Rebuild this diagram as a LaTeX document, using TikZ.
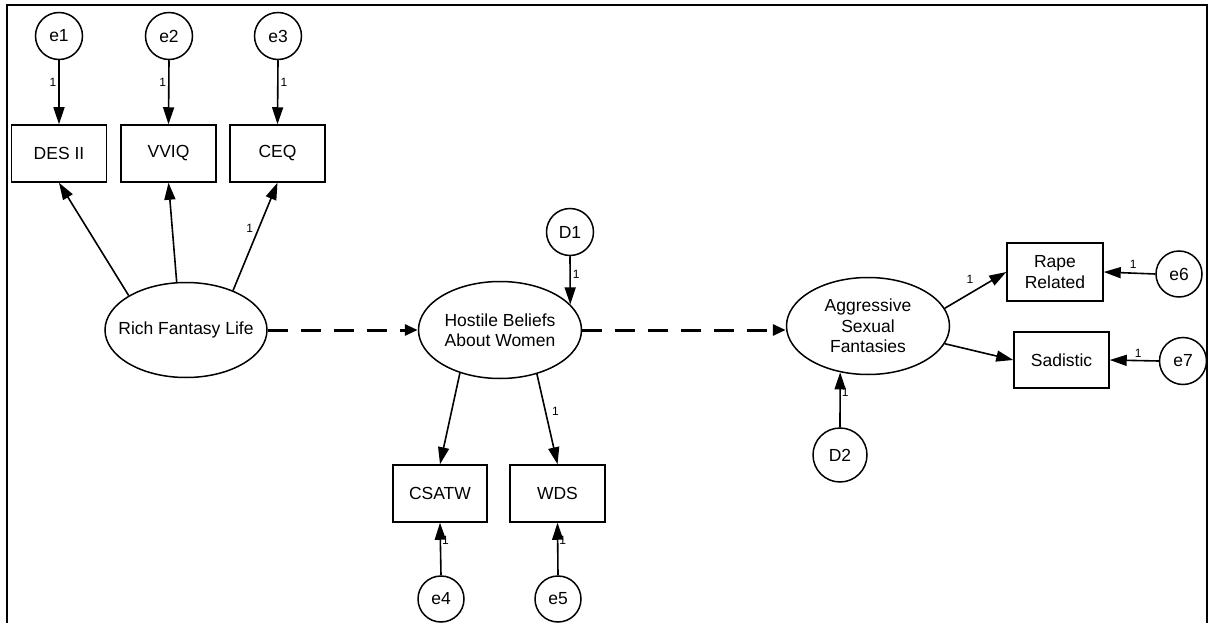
\documentclass[tikz,border=0pt]{standalone}
\usepackage{fontspec}
\setmainfont{Liberation Sans}
\usetikzlibrary{shapes.geometric,arrows.meta,calc}
\tikzset{
  txt/.style={font=\fontsize{17.5}{20.5}\selectfont, align=center, text=black},
  obs/.style={txt, draw, line width=1.5pt, rectangle, inner sep=0pt, minimum width=95pt, minimum height=57pt},
  lat/.style={txt, draw, line width=1.5pt, ellipse, inner sep=-15pt, minimum width=163pt, minimum height=97pt},
  err/.style={txt, draw, line width=1.5pt, circle, inner sep=0pt, minimum size=47pt},
  arr/.style={line width=1.6pt, -{Triangle[length=17pt,width=11pt]}},
  darr/.style={line width=3pt, dash pattern=on 20pt off 13pt, -{Triangle[length=13pt,width=11pt]}},
  one/.style={font=\fontsize{12}{13}\selectfont, inner sep=1pt, text=black},
}
\begin{document}
\begin{tikzpicture}[x=1pt,y=-1pt]
\useasboundingbox (0,0) rectangle (1208,623);
\draw[line width=1.6pt] (7,630) -- (7,5) -- (1207,5) -- (1207,630);

% indicators of Rich Fantasy Life
\node[err] (e1) at (59,36) {e1};
\node[err] (e2) at (169,36) {e2};
\node[err] (e3) at (278,36) {e3};
\node[obs] (des) at (59,153.5) {DES II};
\node[obs] (vviq) at (168.5,153.5) {VVIQ};
\node[obs] (ceq) at (277.5,153.5) {CEQ};
\node[lat, minimum width=162pt, minimum height=95pt] (rfl) at (186,330) {Rich Fantasy Life};

% Hostile beliefs
\node[lat] (hbw) at (500,330) {Hostile Beliefs\\About Women};
\node[err] (d1) at (570,232) {D1};
\node[obs, minimum width=94pt] (csatw) at (440,493.5) {CSATW};
\node[obs] (wds) at (557.5,493.5) {WDS};
\node[err, minimum size=46pt] (e4) at (441,599) {e4};
\node[err, minimum size=46pt] (e5) at (558,599) {e5};

% Aggressive sexual fantasies
\node[lat] (asf) at (868,326) {Aggressive\\Sexual\\Fantasies};
\node[err, minimum size=54pt] (d2) at (840,455) {D2};
\node[obs, minimum width=96pt, minimum height=58pt] (rape) at (1055,272) {Rape\\Related};
\node[obs, minimum height=56pt] (sad) at (1061.5,360) {Sadistic};
\node[err, minimum size=46pt] (e6) at (1179,274) {e6};
\node[err] (e7) at (1183,361) {e7};

% error arrows
\draw[arr] (e1.south) -- node[one, pos=0.35, left=1pt] {1} (des.north);
\draw[arr] (e2.south) -- node[one, pos=0.35, left=1pt] {1} (vviq.north);
\draw[arr] (e3.south) -- node[one, pos=0.35, right=1pt] {1} (ceq.north);

% loadings of Rich Fantasy Life
\draw[arr] (rfl.149) -- (des.south);
\draw[arr] (rfl.101) -- (vviq.south);
\draw[arr] (rfl.40) -- node[one, pos=0.58, left=4pt] {1} (ceq.south);

% structural paths
\draw[darr] (rfl.east) -- (hbw.west);
\draw[darr] (hbw.east) -- (hbw.east -| asf.west);

% Hostile beliefs
\draw[arr] (d1.south) -- node[one, pos=0.37, right=1pt] {1} (hbw.20);
\draw[arr] (hbw.227) -- (csatw.north);
\draw[arr] (hbw.310) -- node[one, pos=0.41, right=5pt] {1} (wds.north);
\draw[arr] (e4.north) -- node[one, pos=0.67, right=0pt] {1} (csatw.south);
\draw[arr] (e5.north) -- node[one, pos=0.67, right=0pt] {1} (wds.south);

% Aggressive sexual fantasies
\draw[arr] (d2.north) -- node[one, pos=0.64, right=0pt] {1} (asf.239);
\draw[arr] (asf.13) -- node[one, pos=0.41, above=8pt] {1} (rape.west);
\draw[arr] (asf.347) -- (sad.west);
\draw[arr] (e6.west) -- node[one, pos=0.43, above=3pt] {1} (rape.east);
\draw[arr] (e7.west) -- node[one, pos=0.42, above=1pt] {1} (sad.east);
\end{tikzpicture}
\end{document}
